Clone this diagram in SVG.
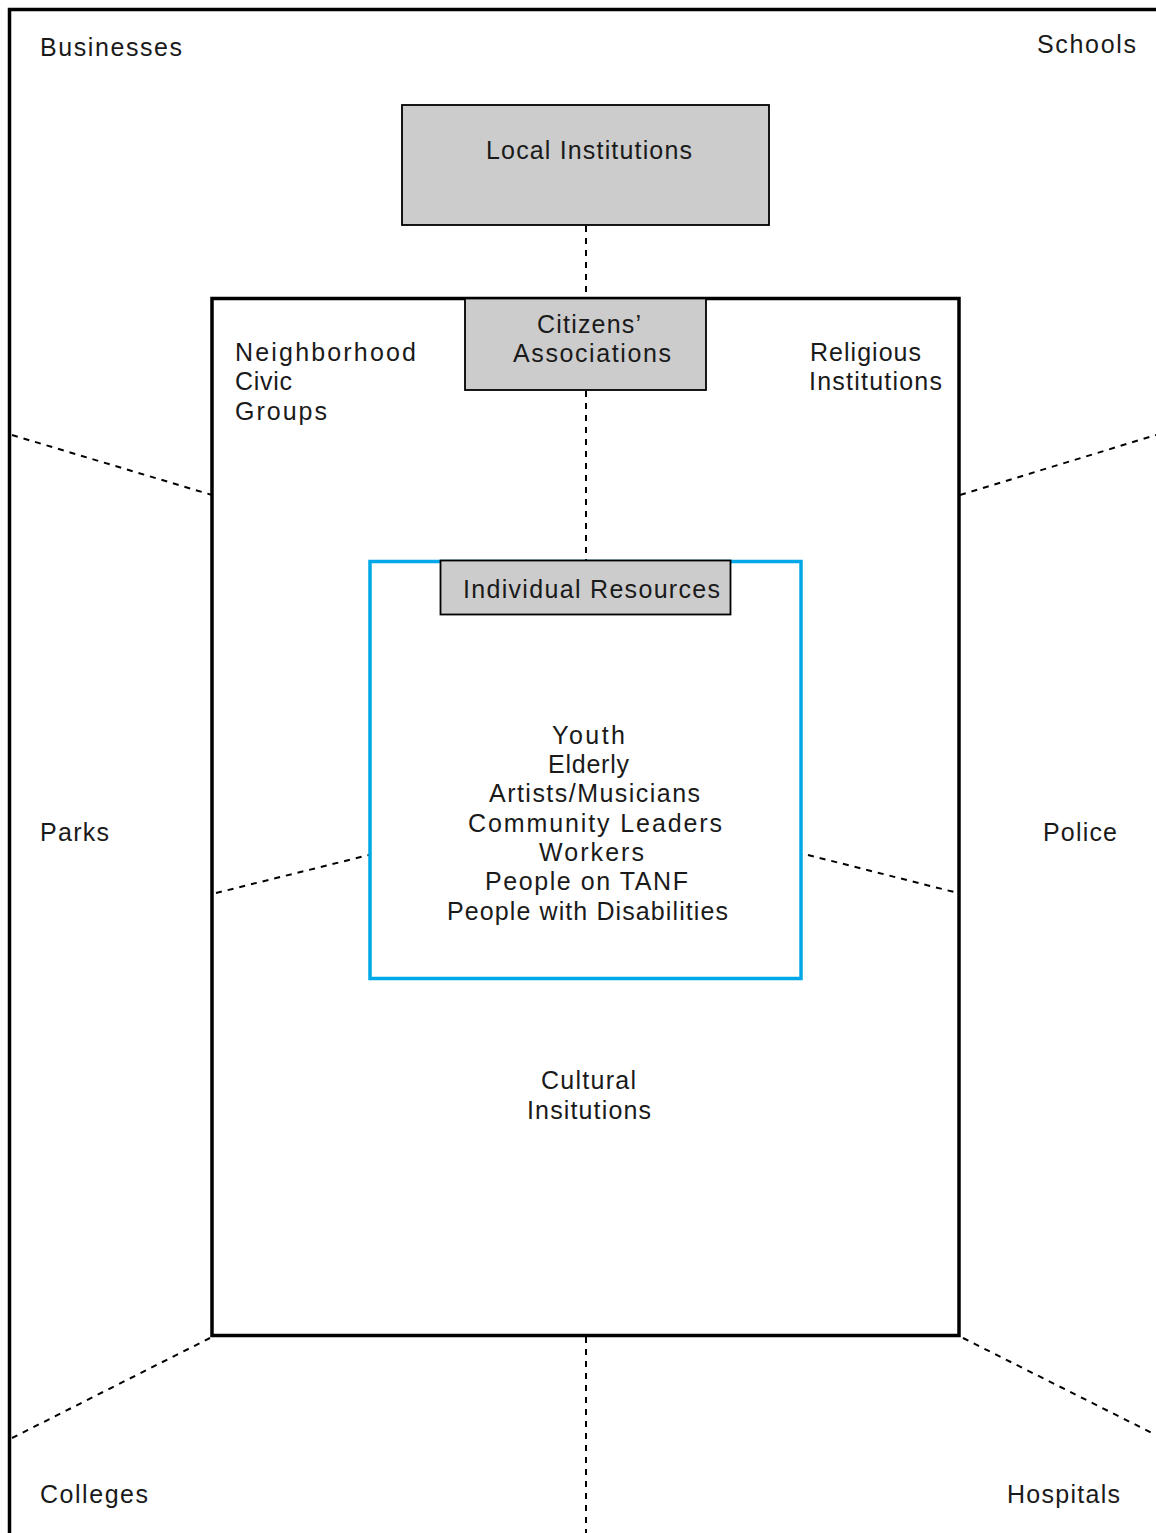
<svg xmlns="http://www.w3.org/2000/svg" width="1156" height="1533" viewBox="0 0 1156 1533">
<style>
text{font-family:"Liberation Sans",Arial,sans-serif;font-size:25px;fill:#1a1a1a}
.box{fill:#cccccc;stroke:#000;stroke-width:1.8}
.dash{stroke:#000;stroke-width:2;stroke-dasharray:6 6;fill:none}
</style>
<rect width="1156" height="1533" fill="#fff"/>
<g id="frame"><path d="M9.5,1533 V9.5 H1156" fill="none" stroke="#000" stroke-width="3.5"/></g>
<g id="community"><rect x="212" y="298.5" width="747" height="1037" fill="#fff" stroke="#000" stroke-width="3.5"/></g>
<g id="connectors">
<line class="dash" x1="586" y1="226" x2="586" y2="298"/>
<line class="dash" x1="586" y1="391" x2="586" y2="560"/>
<line class="dash" x1="586" y1="1337" x2="586" y2="1533"/>
<line class="dash" x1="12" y1="435" x2="212" y2="495"/>
<line class="dash" x1="960" y1="495" x2="1156" y2="435"/>
<line class="dash" x1="216" y1="893" x2="369" y2="855"/>
<line class="dash" x1="808" y1="855" x2="958" y2="893"/>
<line class="dash" x1="12" y1="1438" x2="210" y2="1338"/>
<line class="dash" x1="963" y1="1338" x2="1156" y2="1435"/>
</g>
<g id="local-institutions"><rect class="box" x="402" y="105" width="367" height="120"/><text x="486" y="159" textLength="206">Local Institutions</text></g>
<g id="citizens-associations"><rect class="box" x="465" y="298.5" width="241" height="91.5"/><text x="537" y="333" textLength="104">Citizens’</text><text x="513" y="362" textLength="158">Associations</text></g>
<g id="individual-resources-area"><rect x="370" y="561.5" width="431" height="417" fill="#fff" stroke="#00a8e8" stroke-width="3.5"/></g>
<g id="individual-resources"><rect class="box" x="440.5" y="560.5" width="290" height="54"/><text x="463" y="598" textLength="257">Individual Resources</text></g>
<g id="individuals">
<text x="552" y="744" textLength="73">Youth</text>
<text x="548" y="773" textLength="81">Elderly</text>
<text x="489" y="802" textLength="211">Artists/Musicians</text>
<text x="468" y="832" textLength="254">Community Leaders</text>
<text x="539" y="861" textLength="105">Workers</text>
<text x="485" y="890" textLength="203">People on TANF</text>
<text x="447" y="920" textLength="281">People with Disabilities</text>
</g>
<g id="businesses"><text x="40" y="56" textLength="142">Businesses</text></g>
<g id="schools"><text x="1037" y="53" textLength="99">Schools</text></g>
<g id="neighborhood-civic-groups"><text x="235" y="361" textLength="181">Neighborhood</text><text x="235" y="390" textLength="57">Civic</text><text x="235" y="420" textLength="92">Groups</text></g>
<g id="religious-institutions"><text x="810" y="361" textLength="111">Religious</text><text x="809" y="390" textLength="133">Institutions</text></g>
<g id="parks"><text x="40" y="841" textLength="69">Parks</text></g>
<g id="police"><text x="1043" y="841" textLength="74">Police</text></g>
<g id="cultural-institutions"><text x="541" y="1089" textLength="95">Cultural</text><text x="527" y="1119" textLength="124">Insitutions</text></g>
<g id="colleges"><text x="40" y="1503" textLength="108">Colleges</text></g>
<g id="hospitals"><text x="1007" y="1503" textLength="113">Hospitals</text></g>
</svg>
